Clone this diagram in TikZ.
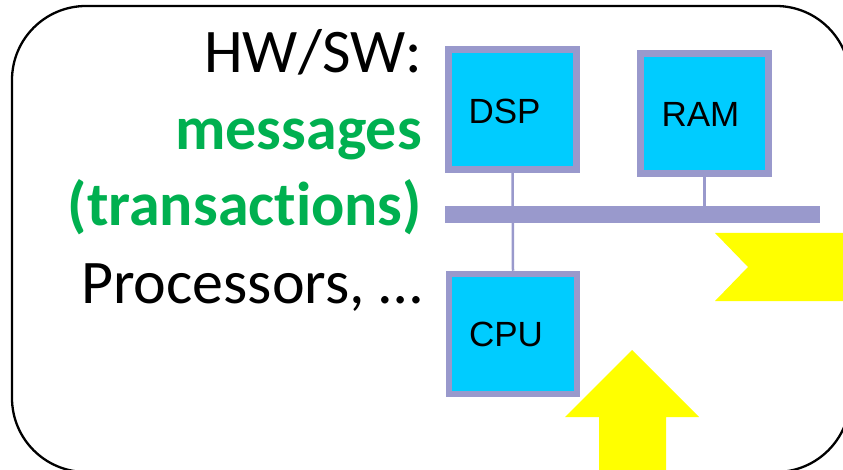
\documentclass[tikz,border=0pt]{standalone}
\usepackage{fontspec}
\setmainfont[Ligatures=NoCommon]{Carlito}
\newfontfamily\boxfont{Liberation Sans}
\definecolor{busblue}{HTML}{9999CC}
\definecolor{chipcyan}{HTML}{00CCFF}
\definecolor{msggreen}{HTML}{00B050}
\definecolor{hiyellow}{HTML}{FFFF00}
\tikzset{
  chip/.style={draw=busblue, line width=6.5pt, fill=chipcyan,
    minimum width=128pt, minimum height=120pt, inner sep=0pt},
  chiplabel/.style={font=\boxfont\fontsize{35}{38}\selectfont, text=black, inner sep=0pt},
  bus/.style={fill=busblue, minimum width=375pt, minimum height=17pt, inner sep=0pt},
  tap/.style={draw=busblue, line width=2.5pt},
  frame/.style={draw=black, line width=2.3pt, rounded corners=74pt},
  marker/.style={fill=hiyellow, draw=none},
  plain/.style={font=\fontsize{62}{75}\selectfont, anchor=base east, inner sep=0pt},
  msg/.style={font=\bfseries\fontsize{62}{75}\selectfont, text=msggreen, anchor=base east, inner sep=0pt}
}
\begin{document}
\begin{tikzpicture}[x=1pt, y=-1pt]
\useasboundingbox (0,0) rectangle (843,470);
\fill[white] (0,0) rectangle (843,470);
% outer frame
\draw[frame] (12,6) rectangle (850,472);
% yellow markers
\fill[marker] (715,233) -- (860,233) -- (860,301) -- (715,301) -- (748,267) -- cycle;
\fill[marker] (632,350) -- (699,417) -- (666,417) -- (666,480) -- (599,480) -- (599,417) -- (565,417) -- cycle;
% text column
\node[plain] (hwsw) at (422,73) {HW/SW:};
\node[msg] (msgs) at (422,150) {messages};
\node[msg] (trans) at (422,226) {(transactions)};
\node[plain] (procs) at (422,303) {Processors, …};
% bus and attached units
\node[bus] (bus) at (632.5,214.5) {};
\node[chip, label={[chiplabel, xshift=-8pt, yshift=-2pt]center:DSP}] (dsp) at (512.5,109.5) {};
\node[chip, label={[chiplabel, xshift=-4pt, yshift=-1pt]center:RAM}] (ram) at (704.5,113.5) {};
\node[chip, label={[chiplabel, xshift=-7pt]center:CPU}] (cpu) at (513,334) {};
\draw[tap] (dsp.south) -- (cpu.north);
\draw[tap] (ram.south) -- (ram.south |- bus.north);
\end{tikzpicture}
\end{document}
